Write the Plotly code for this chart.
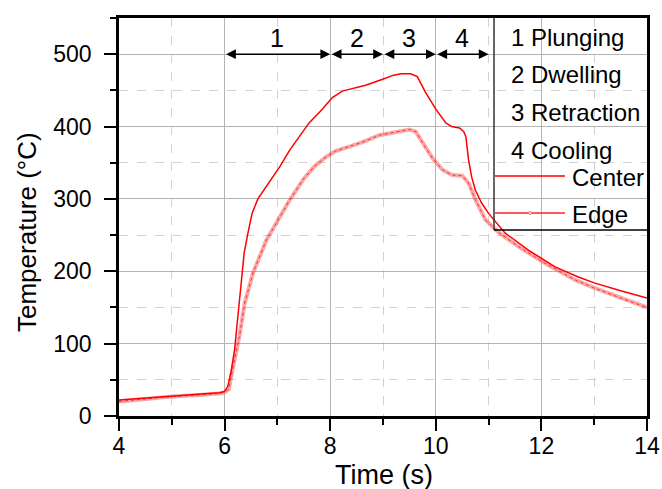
import plotly.graph_objects as go

# Thermocouple readings (time in s, temperature in °C)
center_t = [4.0, 4.5, 5.0, 5.5, 5.9, 6.0, 6.06, 6.12, 6.19, 6.25, 6.31, 6.37, 6.44, 6.52,
            6.63, 6.8, 7.04, 7.23, 7.4, 7.6, 7.85, 8.04, 8.23, 8.45, 8.67, 8.98, 9.2, 9.35,
            9.52, 9.65, 9.8, 10.0, 10.19, 10.3, 10.45, 10.53, 10.57, 10.62, 10.68, 10.75,
            10.87, 11.0, 11.31, 11.76, 12.26, 12.7, 13.0, 13.5, 14.0]
center_T = [22, 25, 28, 30, 32, 34, 41, 60, 92, 140, 185, 225, 252, 280,
            300, 318, 344, 367, 385, 405, 424, 440, 449, 453, 457, 465, 471, 473,
            473, 469, 448, 424, 405, 400, 398, 393, 386, 354, 330, 312,
            294, 280, 253, 229, 206, 192, 184, 173, 163]

edge_t = [4.0, 4.5, 5.0, 5.5, 5.9, 6.0, 6.08, 6.15, 6.22, 6.28, 6.38, 6.54, 6.79, 7.0,
          7.23, 7.5, 7.7, 7.92, 8.1, 8.3, 8.6, 8.93, 9.2, 9.5, 9.62, 9.75, 9.94, 10.13,
          10.31, 10.5, 10.62, 10.75, 10.94, 11.2, 11.57, 12.07, 12.64, 13.0, 13.5, 14.0]
edge_T = [20, 24, 27, 29, 31, 33, 37, 64, 90, 110, 156, 198, 243, 270,
          298, 328, 345, 358, 366, 371, 378, 388, 392, 396, 393, 377, 356, 340,
          333, 332, 322, 299, 271, 253, 234, 211, 188, 177, 163, 150]

# Process stages: boundaries on the time axis and their labels
stage_bounds = [6, 8, 9, 10, 11]
stage_labels = ["1", "2", "3", "4"]
stage_names = ["1 Plunging", "2 Dwelling", "3 Retraction", "4 Cooling"]
series_names = ["Center", "Edge"]
x_title = "Time (s)"
y_title = "Temperature (°C)"

FONT = "Liberation Sans, Arial, sans-serif"
W, H = 662, 489
L, R, T, B = 119, 15, 18, 73


def px(xp):
    return (xp - L) / (W - L - R)


def py(yp):
    return (H - B - yp) / (H - B - T)


fig = go.Figure()

# Edge: broad light band with a fine textured core
fig.add_trace(go.Scatter(x=edge_t, y=edge_T, mode="lines", name=series_names[1],
                         line=dict(color="rgba(255,60,60,0.45)", width=4),
                         showlegend=False, hoverinfo="skip"))
fig.add_trace(go.Scatter(x=edge_t, y=edge_T, mode="lines", name=series_names[1],
                         line=dict(color="rgba(235,0,0,0.7)", width=1, dash="dot"),
                         showlegend=False))
fig.add_trace(go.Scatter(x=center_t, y=center_T, mode="lines", name=series_names[0],
                         line=dict(color="#ff0000", width=1.5), showlegend=False))

annotations = []
arrow_y = 500
for i in range(len(stage_labels)):
    a, b = stage_bounds[i], stage_bounds[i + 1]
    annotations.append(dict(x=b, y=arrow_y, ax=a, ay=arrow_y, xref="x", yref="y",
                            axref="x", ayref="y", text="", showarrow=True,
                            arrowhead=2, startarrowhead=2, arrowside="end+start",
                            arrowsize=1.4, startarrowsize=1.4, arrowwidth=1.4,
                            arrowcolor="black"))
    annotations.append(dict(x=(a + b) / 2, y=522, xref="x", yref="y",
                            text=stage_labels[i], showarrow=False,
                            font=dict(family=FONT, size=25, color="black")))

# Key box: stage names and series samples
row_y = [37, 74, 112, 150]
for name, yp in zip(stage_names, row_y):
    annotations.append(dict(x=px(509), y=py(yp), xref="paper", yref="paper",
                            xanchor="left", yanchor="middle", text=name,
                            showarrow=False,
                            font=dict(family=FONT, size=24, color="black")))
for name, yp in zip(series_names, [177, 214]):
    annotations.append(dict(x=px(570), y=py(yp), xref="paper", yref="paper",
                            xanchor="left", yanchor="middle", text=name,
                            showarrow=False,
                            font=dict(family=FONT, size=24, color="black")))

# Axis titles
annotations.append(dict(x=px(384), y=py(475), xref="paper", yref="paper",
                        xanchor="center", yanchor="middle", text=x_title,
                        showarrow=False, font=dict(family=FONT, size=27, color="black")))
annotations.append(dict(x=px(27), y=py(232), xref="paper", yref="paper",
                        xanchor="center", yanchor="middle", text=y_title,
                        textangle=-90, showarrow=False,
                        font=dict(family=FONT, size=26, color="black")))

shapes = [
    dict(type="line", xref="paper", yref="paper", x0=px(494), x1=px(494),
         y0=py(230), y1=1, line=dict(color="#333333", width=1.5)),
    dict(type="line", xref="paper", yref="paper", x0=px(494), x1=1,
         y0=py(230), y1=py(230), line=dict(color="black", width=1.3)),
    dict(type="line", xref="paper", yref="paper", x0=px(495), x1=px(565),
         y0=py(176), y1=py(176), line=dict(color="#ff0000", width=1.6)),
    dict(type="line", xref="paper", yref="paper", x0=px(495), x1=px(565),
         y0=py(213), y1=py(213), line=dict(color="#ff2020", width=1.6)),
    dict(type="circle", xref="paper", yref="paper", x0=px(528.5), x1=px(531.5),
         y0=py(214.5), y1=py(211.5), line=dict(color="#ff6060", width=1),
         fillcolor="white"),
]

axis_common = dict(
    showline=True, linecolor="black", linewidth=2.5, mirror=True,
    ticks="outside", ticklen=12, tickwidth=2.2, tickcolor="black",
    showgrid=True, gridcolor="#b4b4b4", gridwidth=1.3, zeroline=False,
    tickfont=dict(family=FONT, size=23, color="black"),
    automargin=False,
)

fig.update_layout(
    width=W, height=H,
    margin=dict(l=L, r=R, t=T, b=B),
    paper_bgcolor="white", plot_bgcolor="white",
    font=dict(family=FONT, color="black"),
    xaxis=dict(range=[4, 14], dtick=2, tick0=4, ticklabelstandoff=-4,
               minor=dict(dtick=1, tick0=4, ticks="outside", ticklen=6,
                          tickwidth=2, tickcolor="black", showgrid=True,
                          gridcolor="#d2d2d2", griddash="dash", gridwidth=1),
               **axis_common),
    yaxis=dict(range=[0, 550], dtick=100, tick0=0, ticklabelstandoff=8,
               minor=dict(dtick=50, tick0=0, ticks="outside", ticklen=6,
                          tickwidth=2, tickcolor="black", showgrid=True,
                          gridcolor="#d2d2d2", griddash="dash", gridwidth=1),
               **axis_common),
    annotations=annotations,
    shapes=shapes,
    showlegend=False,
)

fig.write_html("out.html")
